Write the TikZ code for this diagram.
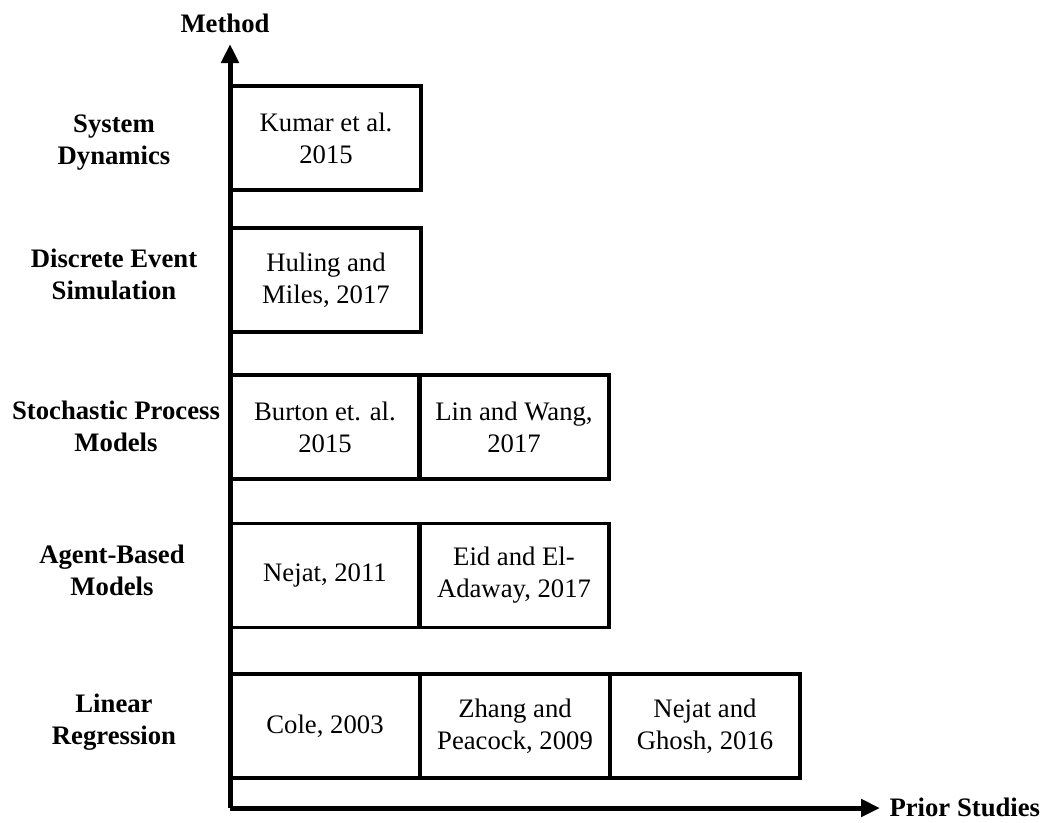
\documentclass[tikz,border=0pt]{standalone}
\usepackage{fontspec}
\setmainfont{Liberation Serif}
\usetikzlibrary{arrows.meta}
\begin{document}
\begin{tikzpicture}[x=1pt,y=-1pt,
  study/.style={draw=black, line width=3.5pt, minimum width=190pt, minimum height=104pt,
    inner sep=0pt, align=center, font=\fontsize{26.7}{32}\selectfont},
  method/.style={align=center, font=\fontsize{26.7}{32}\selectfont\bfseries},
  axis/.style={line width=5pt, -{Triangle[length=19pt,width=17pt]}}]
\useasboundingbox (0,0) rectangle (1051,822);

% axes
\coordinate (o) at (230,808);
\coordinate (ytop) at (230,44);
\coordinate (xend) at (880,808);
\draw[axis] (o) -- (ytop);
\draw[axis] (o) -- (xend);
\node[method, anchor=south] (ylab) at (225,36) {Method};
\node[method, anchor=west] (xlab) at (886,807) {Prior Studies};

% method names
\node[method] (m1) at (114,143) {System\\Dynamics};
\node[method] (m2) at (114,274) {Discrete Event\\Simulation};
\node[method] (m3) at (116,426) {Stochastic Process\\Models};
\node[method] (m4) at (112,570) {Agent-Based\\Models};
\node[method] (m5) at (114,722) {Linear\\Regression};

% studies
\node[study] (s1) at (326,138) {Kumar et al.\\2015};
\node[study] (s2) at (326,280) {Huling and\\Miles, 2017};
\node[study] (s3a) at (325,427) {Burton et. al.\\2015};
\node[study] (s3b) at (514,427) {Lin and Wang,\\2017};
\node[study] (s4a) at (325,575.5) {Nejat, 2011};
\node[study] (s4b) at (514,575.5) {Eid and El-\\Adaway, 2017};
\node[study] (s5a) at (325,726) {Cole, 2003};
\node[study] (s5b) at (515,726) {Zhang and\\Peacock, 2009};
\node[study] (s5c) at (705,726) {Nejat and\\Ghosh, 2016};
\end{tikzpicture}
\end{document}
